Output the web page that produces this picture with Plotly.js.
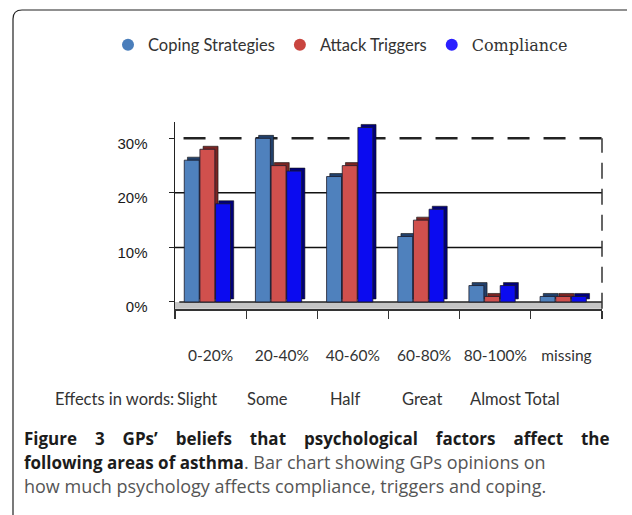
<!DOCTYPE html>
<html>
<head>
<meta charset="utf-8">
<script src="https://cdn.plot.ly/plotly-3.0.1.min.js"></script>
<style>
  html, body { margin: 0; padding: 0; background: #fff; }
  #chart { width: 632px; height: 515px; }
</style>
</head>
<body>
<div id="chart"></div>
<script>
// ---- data ----
const categories = ['0-20%', '20-40%', '40-60%', '60-80%', '80-100%', 'missing'];
const coping = [26, 30, 23, 12, 3, 1];
const attack = [28, 25, 25, 15, 1, 1];
const compliance = [18, 24, 32, 17, 3, 1];
const seriesNames = ['Coping Strategies', 'Attack Triggers', 'Compliance'];
const yTickVals = [0, 10, 20, 30];
const wordsPrefix = 'Effects in words:';
const effectWords = ['Slight', 'Some', 'Half', 'Great', 'Almost Total'];
const captionBold1 = 'Figure 3 GPs’ beliefs that psychological factors affect the';
const captionBold2 = 'following areas of asthma';
const captionRest2 = '. Bar chart showing GPs opinions on';
const captionLine3 = 'how much psychology affects compliance, triggers and coping.';

// ---- layout geometry (pixels) ----
const W = 632, H = 515;
const L = 175, R = 602, T = 122, B = 309;
const px2x = p => (p - L) / (R - L);
const px2y = p => (B - p) / (B - T);

const frontColors = ['#4f81bd', '#d0504d', '#0b0bf0'];
const sideColors = ['#22406a', '#7a2523', '#00007a'];
const legendColors = ['#4a7ebb', '#c9453f', '#2a1fff'];
const offsets = [-0.37, -0.15, 0.07];
const barW = 0.21, depthX = 0.045, depthY = 0.55;

const allSeries = [coping, attack, compliance];
const traces = [];
allSeries.forEach((vals, i) => {
  // depth (top / side) face behind
  traces.push({
    type: 'bar', x: categories, y: vals, base: depthY,
    offset: offsets[i] + depthX, width: barW,
    marker: { color: sideColors[i], line: { color: '#111', width: 0.6 } },
    showlegend: false, hoverinfo: 'skip'
  });
  // front face
  traces.push({
    type: 'bar', x: categories, y: vals, name: seriesNames[i],
    offset: offsets[i], width: barW,
    marker: { color: frontColors[i], line: { color: '#1a1a2a', width: 0.8 } },
    showlegend: false
  });
});
// legend entries (circle markers)
seriesNames.forEach((n, i) => {
  traces.push({
    type: 'scatter', mode: 'markers', x: [null], y: [null],
    name: i === 2 ? '<span style="font-family:\'DejaVu Serif\';font-size:16px">' + n + '</span>' : n,
    marker: { symbol: 'circle', size: 12, color: legendColors[i] },
    showlegend: true, hoverinfo: 'skip'
  });
});

const shapes = [
  // floor
  { type: 'rect', xref: 'paper', yref: 'y', x0: 0, x1: 1, y0: -1.25, y1: 0,
    fillcolor: '#c4c4c4', line: { width: 0 }, layer: 'below' },
  { type: 'line', xref: 'paper', yref: 'y', x0: 0.01, x1: 1, y0: 0, y1: 0,
    line: { color: '#222', width: 1.5 }, layer: 'below' },
  // wall lines
  { type: 'line', xref: 'paper', yref: 'y', x0: 0, x1: 1, y0: 10, y1: 10,
    line: { color: '#111', width: 1.5 }, layer: 'below' },
  { type: 'line', xref: 'paper', yref: 'y', x0: 0, x1: 1, y0: 20, y1: 20,
    line: { color: '#111', width: 1.5 }, layer: 'below' },
  { type: 'line', xref: 'paper', yref: 'y', x0: 0.02, x1: 1, y0: 30, y1: 30,
    line: { color: '#222', width: 2.5, dash: '22px,14px' }, layer: 'below' },
  { type: 'line', xref: 'paper', yref: 'y', x0: 1, x1: 1, y0: -1.25, y1: 30,
    line: { color: '#333', width: 1.5, dash: '16px,10px' }, layer: 'below' },
  // figure frame (top + left, rounded corner)
  { type: 'path', xref: 'paper', yref: 'paper',
    path: 'M ' + px2x(13) + ' ' + px2y(515) + ' L ' + px2x(13) + ' ' + px2y(19) +
          ' Q ' + px2x(13) + ' ' + px2y(10) + ' ' + px2x(22) + ' ' + px2y(10) +
          ' L ' + px2x(627) + ' ' + px2y(10),
    line: { color: '#222', width: 1.2 } }
];

const annotations = [];
const wordFont = { family: 'Lato, sans-serif', size: 16.5, color: '#333' };
annotations.push({ xref: 'paper', yref: 'paper', x: px2x(53), y: px2y(399),
  xanchor: 'left', yanchor: 'middle', showarrow: false, text: wordsPrefix, font: wordFont });
const wordLefts = [175, 245, 328, 400, 468];
effectWords.forEach((w, i) => {
  annotations.push({ xref: 'paper', yref: 'paper', x: px2x(wordLefts[i]), y: px2y(399),
    xanchor: 'left', yanchor: 'middle', showarrow: false, text: w, font: wordFont });
});
const capFont = { family: '"Open Sans", sans-serif', size: 18, color: '#555' };
const boldSpan = '<span style="color:#1c1c1c;font-size:17px">';
annotations.push({ xref: 'paper', yref: 'paper', x: px2x(22), y: px2y(438),
  xanchor: 'left', yanchor: 'middle', showarrow: false,
  text: '<b><span style="color:#1c1c1c;font-size:17px;word-spacing:13.5px">' + captionBold1 + '</span></b>', font: capFont });
annotations.push({ xref: 'paper', yref: 'paper', x: px2x(22), y: px2y(462),
  xanchor: 'left', yanchor: 'middle', showarrow: false,
  text: '<b>' + boldSpan + captionBold2 + '</span></b>' + captionRest2, font: capFont });
annotations.push({ xref: 'paper', yref: 'paper', x: px2x(22), y: px2y(486),
  xanchor: 'left', yanchor: 'middle', showarrow: false, text: captionLine3, font: capFont });

const layout = {
  width: W, height: H,
  margin: { l: L, r: W - R, t: T, b: H - B, pad: 0 },
  paper_bgcolor: '#fff', plot_bgcolor: 'rgba(0,0,0,0)',
  barmode: 'overlay',
  showlegend: true,
  legend: {
    orientation: 'h', x: px2x(108), y: px2y(45), xanchor: 'left', yanchor: 'middle',
    font: { family: 'Lato, sans-serif', size: 16.5, color: '#333' },
    bgcolor: 'rgba(0,0,0,0)'
  },
  xaxis: {
    type: 'category', range: [-0.5, 5.5],
    showline: true, linecolor: '#333', linewidth: 1.5,
    ticks: 'outside', tickson: 'boundaries', ticklen: 8, tickcolor: '#333', tickwidth: 1.2,
    showgrid: false, zeroline: false, tickangle: 0,
    tickfont: { family: 'Lato, sans-serif', size: 15.5, color: '#333' },
    ticklabelstandoff: 32
  },
  yaxis: {
    range: [-1.3, 33],
    tickvals: yTickVals, ticktext: yTickVals.map(v => v + '%'),
    showline: true, linecolor: '#222', linewidth: 1.5,
    ticks: 'outside', ticklen: 5, tickcolor: '#222',
    showgrid: false, zeroline: false,
    tickfont: { family: '"Liberation Sans", Arial, sans-serif', size: 15, color: '#1a1a1a' },
    ticklabelstandoff: 18, ticklabelshift: 5
  },
  shapes: shapes,
  annotations: annotations
};

Plotly.newPlot('chart', traces, layout, { displayModeBar: false, staticPlot: true });
</script>
</body>
</html>
